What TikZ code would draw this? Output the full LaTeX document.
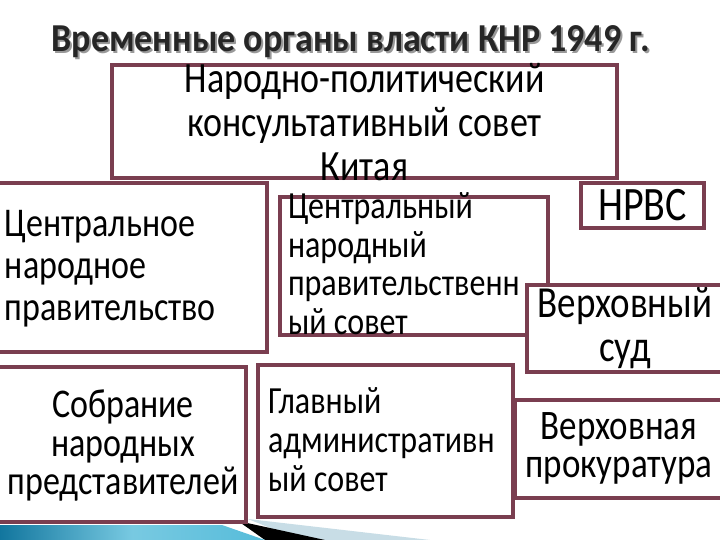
\documentclass[tikz,border=0pt]{standalone}
\usepackage{graphicx}
\usepackage{fontspec}
\setmainfont{Carlito}
\usetikzlibrary{positioning}
\definecolor{frame}{RGB}{122,62,80}
\definecolor{tealdark}{RGB}{18,118,158}
\definecolor{teallight}{RGB}{86,188,218}
\definecolor{pale}{RGB}{200,221,230}
\newcommand\stretched[1]{\scalebox{1}[1.2]{#1}}
\newcommand\shadowed[1]{\rlap{\hspace{2pt}\raisebox{-2pt}{\color{black!40}#1}}#1}
\tikzset{
  box/.style={draw=frame,line width=4pt,fill=white,anchor=north west,inner sep=0pt,outer sep=0pt},
  txt/.style={inner sep=0pt,outer sep=0pt,text=black}
}
\begin{document}
\begin{tikzpicture}[x=1pt,y=-1pt]
\clip (0,0) rectangle (720,540);
\fill[white] (0,0) rectangle (720,540);

% bottom band
\fill[pale] (248,519) -- (430,540) -- (300,540) -- cycle;
\fill[black] (238,521) -- (325,540) -- (265,540) -- cycle;
\shade[left color=tealdark,right color=teallight,middle color=teallight!80!white] (0,525) -- (222,525) -- (265,540) -- (0,540) -- cycle;

% title
\node[txt,text=black!85,font=\fontsize{36}{40}\selectfont\bfseries] (title) at (351,42.5) {\scalebox{1}[1.1]{\shadowed{Временные органы власти КНР 1949 г.}}};

% boxes
\node[box,minimum width=505pt,minimum height=113pt] (npk) at (112,65) {};
\node[box,minimum width=277pt,minimum height=169pt] (cnp) at (-10,183) {};
\node[box,minimum width=268pt,minimum height=138pt] (cnps) at (280,197) {};
\node[box,minimum width=123pt,minimum height=45pt] (nrvs) at (581,183) {};
\node[box,minimum width=200pt,minimum height=87pt] (sud) at (527,285) {};
\node[box,minimum width=256pt,minimum height=155pt] (sobr) at (-10,367) {};
\node[box,minimum width=255pt,minimum height=152pt] (glav) at (258,365) {};
\node[box,minimum width=215pt,minimum height=98pt] (prok) at (515,400) {};

% texts
\node[txt,anchor=north,align=center,font=\fontsize{36}{44}\selectfont] (npkt) at ([yshift=1.5pt]npk.north) {\stretched{Народно-политический}\\\stretched{консультативный совет}\\\stretched{Китая}};
\node[txt,anchor=north west,align=left,font=\fontsize{34}{42}\selectfont] (cnpt) at (5,210) {\stretched{Центральное}\\\stretched{народное}\\\stretched{правительство}};
\node[txt,anchor=north west,align=left,font=\fontsize{32}{38.5}\selectfont] (cnpst) at (288,193) {\stretched{Центральный}\\\stretched{народный}\\\stretched{правительственн}\\\stretched{ый совет}};
\node[txt,font=\fontsize{40}{44}\selectfont] (nrvst) at (nrvs.center) {\stretched{НРВС}};
\node[txt,anchor=north,align=center,font=\fontsize{37}{44}\selectfont] (sudt) at (625,287.5) {\stretched{Верховный}\\\stretched{суд}};
\node[txt,anchor=north,align=center,font=\fontsize{34}{38.5}\selectfont] (sobrt) at (123,390) {\stretched{Собрание}\\\stretched{народных}\\\stretched{представителей}};
\node[txt,anchor=north,align=center,font=\fontsize{35}{38}\selectfont] (prokt) at (619,413) {\stretched{Верховная}\\\stretched{прокуратура}};
\node[txt,anchor=north west,align=left,font=\fontsize{32}{39}\selectfont] (glavt) at (268,387.5) {\stretched{Главный}\\\stretched{административн}\\\stretched{ый совет}};
\end{tikzpicture}
\end{document}
